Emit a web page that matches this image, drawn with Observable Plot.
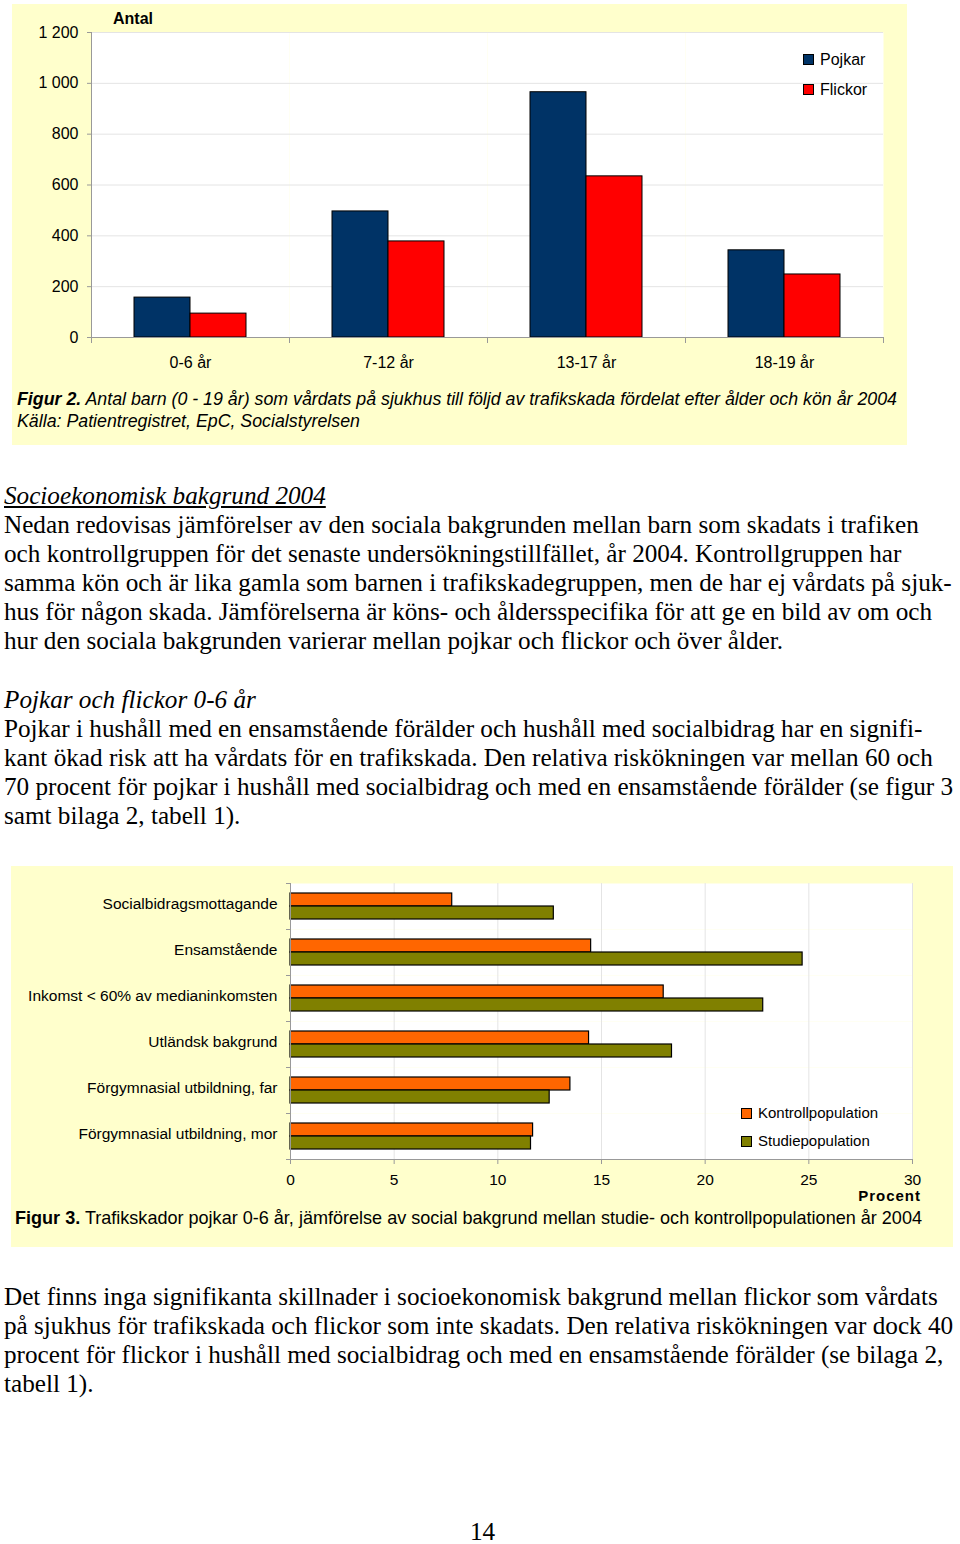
<!DOCTYPE html>
<html>
<head>
<meta charset="utf-8">
<script src="https://cdn.jsdelivr.net/npm/d3@7"></script>
<script src="https://cdn.jsdelivr.net/npm/@observablehq/plot@0.6"></script>
<style>
  html, body { margin: 0; padding: 0; background: #fff; }
  #page { position: relative; width: 960px; height: 1544px; overflow: hidden; }
  .box { position: absolute; background: #FFFFCC; }
  .abs { position: absolute; white-space: nowrap; }
  .sans { font-family: "Liberation Sans", Arial, sans-serif; color: #000; }
  .serif { font-family: "Liberation Serif", "Times New Roman", serif; color: #000; font-size: 25.2px; line-height: 29px; }
  .sw { display: inline-block; width: 9px; height: 9px; border: 1px solid #000; vertical-align: middle; margin-right: 6px; position: relative; top: -1px; }
</style>
</head>
<body>
<div id="page">
  <div class="box" id="box1" style="left:12px; top:4px; width:895px; height:441px;">
    <div id="chart1" style="position:absolute; left:0; top:0;"></div>
    <div class="abs sans" style="left:101px; top:5px; font-size:16px; font-weight:bold; line-height:20px;">Antal</div>
    <div class="abs sans" id="legend1" style="left:791px; top:41px; font-size:16px; line-height:30px;"></div>
    <div class="abs sans" style="left:5px; top:384px; font-size:17.8px; line-height:22px; font-style:italic;">
      <div><b>Figur 2.</b> Antal barn (0 - 19 år) som vårdats på sjukhus till följd av trafikskada fördelat efter ålder och kön år 2004</div>
      <div>Källa: Patientregistret, EpC, Socialstyrelsen</div>
    </div>
  </div>

  <div class="abs serif" style="left:4px; top:481px;">
    <div style="font-style:italic; text-decoration:underline;">Socioekonomisk bakgrund 2004</div>
    <div>Nedan redovisas jämförelser av den sociala bakgrunden mellan barn som skadats i trafiken</div>
    <div>och kontrollgruppen för det senaste undersökningstillfället, år 2004. Kontrollgruppen har</div>
    <div>samma kön och är lika gamla som barnen i trafikskadegruppen, men de har ej vårdats på sjuk-</div>
    <div>hus för någon skada. Jämförelserna är köns- och åldersspecifika för att ge en bild av om och</div>
    <div>hur den sociala bakgrunden varierar mellan pojkar och flickor och över ålder.</div>
  </div>

  <div class="abs serif" style="left:4px; top:685px;">
    <div style="font-style:italic;">Pojkar och flickor 0-6 år</div>
    <div>Pojkar i hushåll med en ensamstående förälder och hushåll med socialbidrag har en signifi-</div>
    <div>kant ökad risk att ha vårdats för en trafikskada. Den relativa riskökningen var mellan 60 och</div>
    <div>70 procent för pojkar i hushåll med socialbidrag och med en ensamstående förälder (se figur 3</div>
    <div>samt bilaga 2, tabell 1).</div>
  </div>

  <div class="box" id="box2" style="left:11px; top:866px; width:942px; height:381px;">
    <div id="chart2" style="position:absolute; left:0; top:0;"></div>
    <div class="abs sans" id="legend2" style="left:730px; top:233px; font-size:15px; line-height:28px;"></div>
    <div class="abs sans" style="right:32px; top:321px; font-size:15px; font-weight:bold; line-height:18px; letter-spacing:1px;">Procent</div>
    <div class="abs sans" style="left:4px; top:341px; font-size:19px; line-height:22px; transform:scaleX(0.95); transform-origin:0 50%;"><b>Figur 3.</b> Trafikskador pojkar 0-6 år, jämförelse av social bakgrund mellan studie- och kontrollpopulationen år 2004</div>
  </div>

  <div class="abs serif" style="left:4px; top:1282px;">
    <div>Det finns inga signifikanta skillnader i socioekonomisk bakgrund mellan flickor som vårdats</div>
    <div>på sjukhus för trafikskada och flickor som inte skadats. Den relativa riskökningen var dock 40</div>
    <div>procent för flickor i hushåll med socialbidrag och med en ensamstående förälder (se bilaga 2,</div>
    <div>tabell 1).</div>
  </div>

  <div class="abs serif" style="left:470px; top:1520px; line-height:24px;">14</div>
</div>

<script>
// ---------- Figure 2 data ----------
const ageGroups = ["0-6 år", "7-12 år", "13-17 år", "18-19 år"];
const sexes = ["Pojkar", "Flickor"];
const pojkar = [157, 496, 965, 343];
const flickor = [94, 378, 634, 248];
const yTicks = [0, 200, 400, 600, 800, 1000, 1200];
const yTickLabels = ["0", "200", "400", "600", "800", "1 000", "1 200"];
const sexColors = ["#003366", "#FF0000"];

// ---------- Figure 3 data ----------
const factors = [
  "Socialbidragsmottagande",
  "Ensamstående",
  "Inkomst < 60% av medianinkomsten",
  "Utländsk bakgrund",
  "Förgymnasial utbildning, far",
  "Förgymnasial utbildning, mor"
];
const populations = ["Kontrollpopulation", "Studiepopulation"];
const kontroll = [7.8, 14.5, 18.0, 14.4, 13.5, 11.7];
const studie = [12.7, 24.7, 22.8, 18.4, 12.5, 11.6];
const xTicks = [0, 5, 10, 15, 20, 25, 30];
const popColors = ["#FF6600", "#808000"];

// ---------- Chart 1 ----------
const data1 = [];
ageGroups.forEach((a, i) => {
  data1.push({age: a, sex: sexes[0], value: pojkar[i]});
  data1.push({age: a, sex: sexes[1], value: flickor[i]});
});

const chart1 = Plot.plot({
  width: 895, height: 374,
  marginLeft: 78, marginRight: 24, marginTop: 28, marginBottom: 41,
  style: {background: "transparent", fontFamily: "'Liberation Sans', Arial, sans-serif", fontSize: "16px", color: "#000", overflow: "visible"},
  fx: {domain: ageGroups, padding: 0, label: null},
  x: {domain: sexes, paddingInner: 0, paddingOuter: 0.74, axis: null},
  y: {domain: [0, 1200], label: null},
  color: {domain: sexes, range: sexColors},
  marks: [
    Plot.frame({fill: "white", stroke: null}),
    Plot.gridY(yTicks, {stroke: "#e4e4e4", strokeOpacity: 1}),
    Plot.axisY(yTicks, {tickFormat: d => yTickLabels[yTicks.indexOf(d)], tickSize: 4, tickPadding: 9, stroke: "#999", label: null}),
    Plot.axisFx({anchor: "bottom", tickSize: 0, tickPadding: 19, label: null}),
    Plot.barY(data1, {fx: "age", x: "sex", y: "value", fill: "sex", stroke: "#000", strokeWidth: 1}),
    Plot.frame({anchor: "left", stroke: "#999", insetTop: 305, insetBottom: -5}),
    Plot.frame({anchor: "right", stroke: "#999", insetTop: 305, insetBottom: -5}),
    Plot.frame({anchor: "bottom", stroke: "#999"}),
    Plot.frame({facet: "super", anchor: "left", stroke: "#999"})
  ]
});
document.getElementById("chart1").appendChild(chart1);

const leg1 = document.getElementById("legend1");
sexes.forEach((s, i) => {
  const d = document.createElement("div");
  d.innerHTML = `<span class="sw" style="background:${sexColors[i]}"></span>${s}`;
  leg1.appendChild(d);
});

// ---------- Chart 2 ----------
const data2 = [];
factors.forEach((f, i) => {
  data2.push({factor: f, pop: populations[0], value: kontroll[i]});
  data2.push({factor: f, pop: populations[1], value: studie[i]});
});

const chart2 = Plot.plot({
  width: 942, height: 326,
  marginLeft: 279, marginRight: 41, marginTop: 16, marginBottom: 33,
  style: {background: "transparent", fontFamily: "'Liberation Sans', Arial, sans-serif", fontSize: "15.5px", color: "#000", overflow: "visible"},
  fy: {domain: factors, padding: 0, label: null},
  y: {domain: populations, paddingInner: 0, paddingOuter: 0.71, axis: null},
  x: {domain: [0, 30], label: null},
  color: {domain: populations, range: popColors},
  marks: [
    Plot.frame({fill: "white", stroke: null}),
    Plot.gridX(xTicks, {stroke: "#e4e4e4", strokeOpacity: 1}),
    Plot.axisX(xTicks, {anchor: "bottom", tickSize: 5, tickPadding: 9, stroke: "#999", label: null}),
    Plot.axisFy({anchor: "left", tickSize: 0, tickPadding: 13, dy: -2, label: null}),
    Plot.barX(data2, {fy: "factor", y: "pop", x: "value", fill: "pop", stroke: "#000", strokeWidth: 1.2}),
    Plot.frame({anchor: "top", stroke: "#999", insetLeft: -4, insetRight: 622}),
    Plot.frame({anchor: "bottom", stroke: "#999", insetLeft: -4, insetRight: 622}),
    Plot.frame({facet: "super", anchor: "left", stroke: "#999"}),
    Plot.frame({facet: "super", anchor: "bottom", stroke: "#999"})
  ]
});
document.getElementById("chart2").appendChild(chart2);

const leg2 = document.getElementById("legend2");
populations.forEach((p, i) => {
  const d = document.createElement("div");
  d.innerHTML = `<span class="sw" style="background:${popColors[i]}"></span>${p}`;
  leg2.appendChild(d);
});
</script>
</body>
</html>
